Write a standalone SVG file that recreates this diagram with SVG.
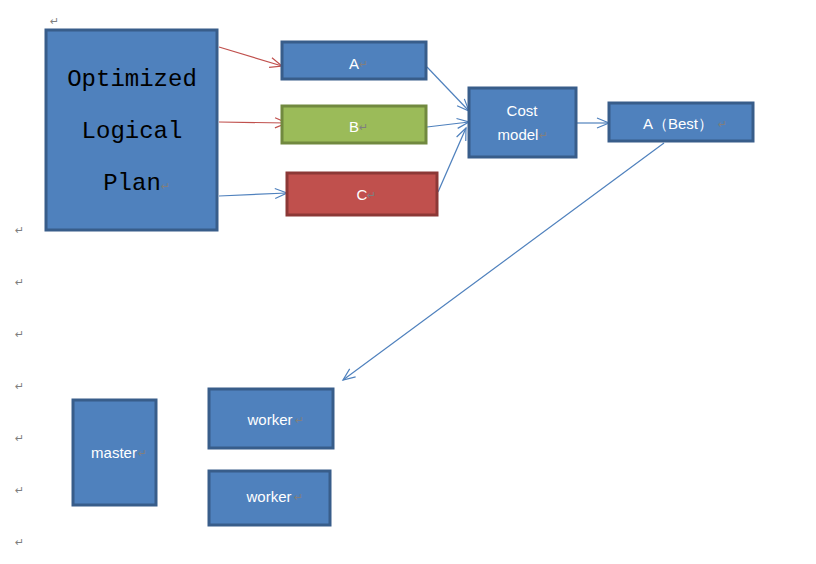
<svg xmlns="http://www.w3.org/2000/svg" width="816" height="564" viewBox="0 0 816 564">
<style>
.blue{fill:#4F81BD;stroke:#385D8A;stroke-width:3}
.green{fill:#9BBB59;stroke:#71893F;stroke-width:3}
.red{fill:#C0504D;stroke:#8C3836;stroke-width:3}
.lbl{font-family:"Liberation Sans","Noto Sans",sans-serif;font-size:15px;fill:#FFFFFF;text-anchor:middle}
.mono{font-family:"Liberation Mono","DejaVu Sans Mono",monospace;font-size:24px;fill:#000000;text-anchor:middle}
.pm{font-family:"DejaVu Sans",sans-serif;font-size:11px;fill:#7F7F7F}
.cb{stroke:#4F81BD;stroke-width:1.2;fill:none}
.cr{stroke:#C0504D;stroke-width:1.2;fill:none}
</style>
<defs>
<marker id="ab" markerUnits="userSpaceOnUse" markerWidth="16" markerHeight="16" refX="13" refY="6" orient="auto" viewBox="0 0 16 12">
<path d="M1,1 L13,6 L1,11" fill="none" stroke="#4F81BD" stroke-width="1.2"/>
</marker>
<marker id="ar" markerUnits="userSpaceOnUse" markerWidth="16" markerHeight="16" refX="13" refY="6" orient="auto" viewBox="0 0 16 12">
<path d="M1,1 L13,6 L1,11" fill="none" stroke="#C0504D" stroke-width="1.2"/>
</marker>
</defs>
<rect width="816" height="564" fill="#FFFFFF"/>
<g id="margin-marks">
<text class="pm" x="50" y="25">↵</text>
<text class="pm" x="15" y="234">↵</text>
<text class="pm" x="15" y="286">↵</text>
<text class="pm" x="15" y="338">↵</text>
<text class="pm" x="15" y="390">↵</text>
<text class="pm" x="15" y="442">↵</text>
<text class="pm" x="15" y="494">↵</text>
<text class="pm" x="15" y="546">↵</text>
</g>
<g id="connectors">
<line class="cr" x1="219" y1="47" x2="282" y2="66" marker-end="url(#ar)"/>
<line class="cr" x1="219" y1="122" x2="287" y2="123" marker-end="url(#ar)"/>
<line class="cb" x1="219" y1="196" x2="287" y2="193" marker-end="url(#ab)"/>
<line class="cb" x1="427" y1="67" x2="469" y2="111" marker-end="url(#ab)"/>
<line class="cb" x1="427" y1="127" x2="469" y2="122" marker-end="url(#ab)"/>
<line class="cb" x1="438" y1="192" x2="466" y2="128" marker-end="url(#ab)"/>
<line class="cb" x1="577" y1="123" x2="609" y2="123" marker-end="url(#ab)"/>
<line class="cb" x1="664" y1="143" x2="343" y2="380" marker-end="url(#ab)"/>
</g>
<g id="plan">
<rect class="blue" x="46" y="30" width="171" height="200"/>
<text class="mono" x="132" y="86">Optimized</text>
<text class="mono" x="132" y="138">Logical</text>
<text class="mono" x="132" y="190">Plan</text>
<text class="pm" x="161" y="190">↵</text>
</g>
<g id="nodeA">
<rect class="blue" x="282" y="42" width="144" height="37"/>
<text class="lbl" x="354" y="69">A</text>
<text class="pm" x="359" y="68">↵</text>
</g>
<g id="nodeB">
<rect class="green" x="282" y="106" width="144" height="37"/>
<text class="lbl" x="354" y="132">B</text>
<text class="pm" x="359" y="131">↵</text>
</g>
<g id="nodeC">
<rect class="red" x="287" y="173" width="150" height="42"/>
<text class="lbl" x="362" y="200">C</text>
<text class="pm" x="367" y="199">↵</text>
</g>
<g id="cost">
<rect class="blue" x="469" y="88" width="107" height="69"/>
<text class="lbl" x="522" y="116">Cost</text>
<text class="lbl" x="518" y="140">model</text>
<text class="pm" x="539" y="139">↵</text>
</g>
<g id="best">
<rect class="blue" x="609" y="103" width="144" height="38"/>
<text class="lbl" x="678" y="129">A（Best）</text>
<text class="pm" x="718" y="128">↵</text>
</g>
<g id="master">
<rect class="blue" x="73" y="400" width="83" height="105"/>
<text class="lbl" x="114" y="458">master</text>
<text class="pm" x="138" y="457">↵</text>
</g>
<g id="worker1">
<rect class="blue" x="209" y="389" width="124" height="59"/>
<text class="lbl" x="270" y="425">worker</text>
<text class="pm" x="295" y="424">↵</text>
</g>
<g id="worker2">
<rect class="blue" x="209" y="471" width="121" height="54"/>
<text class="lbl" x="269" y="502">worker</text>
<text class="pm" x="294" y="501">↵</text>
</g>
</svg>
